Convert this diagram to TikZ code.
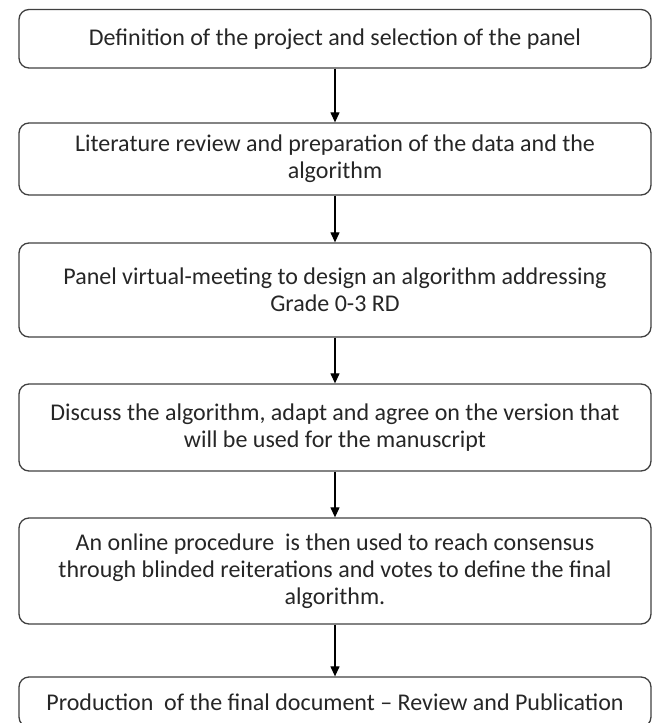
\documentclass[tikz,border=0pt]{standalone}
\usepackage{fontspec}
\setmainfont{Carlito}
\usetikzlibrary{arrows.meta}
\definecolor{boxline}{HTML}{404040}
\definecolor{txt}{HTML}{262626}
\tikzset{
  stepbox/.style={draw=boxline, line width=1.3pt, rounded corners=10pt,
    minimum width=632pt, inner sep=0pt, align=center, text=txt,
    font=\fontsize{24}{27}\selectfont},
  arr/.style={draw=black, line width=1.2pt, -{Triangle[length=10pt,width=9pt]}}
}
\begin{document}
\begin{tikzpicture}[x=1pt,y=-1pt]
\useasboundingbox (0,0) rectangle (653,723);
\node[stepbox, minimum height=58.5pt] (b1) at (335,38.75)
  {Definition of the project and selection of the panel};
\node[stepbox, minimum height=72pt] (b2) at (335,159)
  {Literature review and preparation of the data and the\\ algorithm};
\node[stepbox, minimum height=94pt] (b3) at (335,290)
  {Panel virtual-meeting to design an algorithm addressing\\ Grade 0-3 RD};
\node[stepbox, minimum height=87pt] (b4) at (335,427.5)
  {Discuss the algorithm, adapt and agree on the version that\\ will be used for the manuscript};
\node[stepbox, minimum height=106pt] (b5) at (335,571)
  {An online procedure \ is then used to reach consensus\\ through blinded reiterations and votes to define the final\\ algorithm.};
\node[stepbox, minimum height=50pt] (b6) at (335,702)
  {Production \ of the final document -- Review and Publication};
\draw[arr] (b1) -- (b2);
\draw[arr] (b2) -- (b3);
\draw[arr] (b3) -- (b4);
\draw[arr] (b4) -- (b5);
\draw[arr] (b5) -- (b6);
\end{tikzpicture}
\end{document}
